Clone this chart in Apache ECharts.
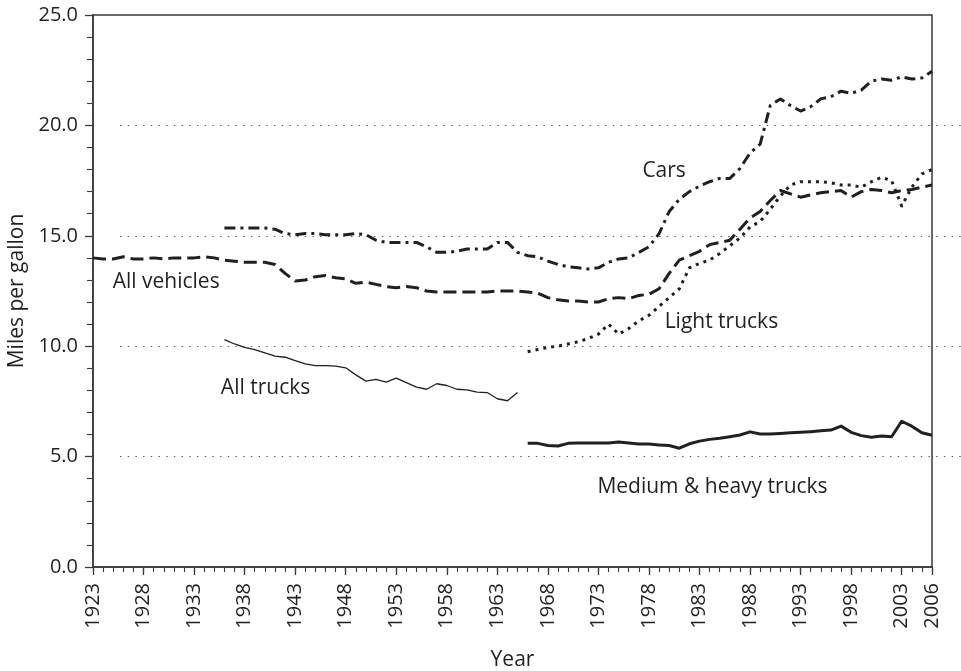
<!DOCTYPE html>
<html>
<head>
<meta charset="utf-8">
<title>Miles per gallon by vehicle type, 1923–2006</title>
<script src="https://cdn.jsdelivr.net/npm/echarts@6/dist/echarts.min.js"></script>
<style>
  html, body { margin: 0; padding: 0; background: #ffffff; }
  #chart { width: 961px; height: 671px; }
</style>
</head>
<body>
<div id="chart"></div>
<script>
// Fuel economy (miles per gallon) by vehicle class, one value per year.
const allVehiclesStart = 1923;
const allVehicles = [
  14.0, 13.95, 13.95, 14.05, 13.95, 13.95, 14.0, 13.95, 14.0, 14.0,
  14.0, 14.05, 14.0, 13.9, 13.85, 13.8, 13.8, 13.8, 13.7, 13.3,
  12.95, 13.0, 13.15, 13.2, 13.1, 13.05, 12.85, 12.9, 12.8, 12.7,
  12.65, 12.7, 12.65, 12.5, 12.45, 12.45, 12.45, 12.45, 12.45, 12.45,
  12.5, 12.5, 12.5, 12.45, 12.4, 12.2, 12.1, 12.05, 12.05, 12.0,
  12.0, 12.15, 12.2, 12.15, 12.3, 12.35, 12.6, 13.3, 13.9, 14.1,
  14.3, 14.6, 14.7, 14.8, 15.3, 15.8, 16.1, 16.6, 17.05, 16.9,
  16.75, 16.85, 16.95, 17.0, 17.05, 16.75, 17.0, 17.1, 17.05, 16.95,
  17.05, 17.1, 17.2, 17.3
];

const carsStart = 1936;
const cars = [
  15.35, 15.35, 15.35, 15.35, 15.35, 15.3, 15.1, 15.05, 15.1, 15.1,
  15.05, 15.05, 15.05, 15.1, 15.05, 14.8, 14.7, 14.7, 14.7, 14.7,
  14.5, 14.25, 14.25, 14.3, 14.4, 14.4, 14.4, 14.7, 14.7, 14.25,
  14.1, 14.05, 13.85, 13.7, 13.6, 13.55, 13.5, 13.55, 13.8, 13.95,
  14.0, 14.25, 14.5, 15.1, 16.1, 16.65, 17.0, 17.25, 17.45, 17.6,
  17.6, 18.05, 18.75, 19.15, 20.9, 21.2, 20.9, 20.65, 20.85, 21.2,
  21.3, 21.55, 21.45, 21.6, 22.0, 22.1, 22.05, 22.2, 22.1, 22.15,
  22.45
];

const lightTrucksStart = 1966;
const lightTrucks = [
  9.75, 9.85, 9.95, 10.0, 10.1, 10.2, 10.35, 10.55, 11.0, 10.55,
  10.8, 11.15, 11.4, 11.8, 12.2, 12.6, 13.55, 13.75, 13.9, 14.2,
  14.55, 14.9, 15.4, 15.65, 16.2, 16.8, 17.3, 17.45, 17.45, 17.45,
  17.4, 17.3, 17.3, 17.2, 17.45, 17.65, 17.5, 16.35, 17.2, 17.8,
  18.0
];

const allTrucksStart = 1936;
const allTrucks = [
  10.3, 10.1, 9.95, 9.85, 9.7, 9.55, 9.5, 9.35, 9.2, 9.12,
  9.12, 9.1, 9.02, 8.7, 8.42, 8.5, 8.37, 8.55, 8.35, 8.15,
  8.05, 8.3, 8.22, 8.05, 8.02, 7.92, 7.9, 7.62, 7.53, 7.9
];

const heavyTrucksStart = 1966;
const heavyTrucks = [
  5.6, 5.6, 5.5, 5.48, 5.6, 5.62, 5.62, 5.62, 5.62, 5.66,
  5.62, 5.57, 5.57, 5.53, 5.5, 5.38, 5.58, 5.7, 5.78, 5.83,
  5.9, 5.98, 6.12, 6.02, 6.02, 6.05, 6.08, 6.1, 6.13, 6.17,
  6.2, 6.38, 6.1, 5.95, 5.88, 5.93, 5.9, 6.6, 6.38, 6.08,
  5.97
];

// Axis ranges and reference lines
const yearMin = 1923, yearMax = 2006, yearStep = 5;
const mpgMin = 0, mpgMax = 25, mpgStep = 5;
const refLineMin = 5, refLineMax = 20;

// Series names and where their names are written (year, mpg)
const seriesNames = ['All vehicles', 'Cars', 'Light trucks', 'All trucks', 'Medium & heavy trucks'];
const labelYears = [1924.9, 1977.3, 1979.5, 1935.6, 1972.85];
const labelValues = [12.9, 17.95, 11.1, 8.12, 3.6];

function pairs(start, values) {
  return values.map((v, i) => [start + i, v]);
}

const INK = '#231f20';
const AXIS = '#3a3a3a';
const FONT = '"Open Sans", "Noto Sans", "DejaVu Sans", sans-serif';

const chart = echarts.init(document.getElementById('chart'), null, { renderer: 'canvas' });

const lineBase = { type: 'line', xAxisIndex: 0, yAxisIndex: 0, showSymbol: false, symbol: 'none', silent: true, animation: false, z: 3 };

chart.setOption({
  animation: false,
  backgroundColor: '#ffffff',
  textStyle: { fontFamily: FONT, color: INK },
  grid: [
    { left: 93, right: 29, top: 15, bottom: 104, outerBoundsMode: 'none', containLabel: false,
      show: true, borderColor: AXIS, borderWidth: 1.5, backgroundColor: 'transparent', z: 1 },
    { left: 120, right: 0, top: 125.4, bottom: 214.4, outerBoundsMode: 'none', containLabel: false, show: false, z: 0 }
  ],
  xAxis: [
    {
      gridIndex: 0, type: 'value', min: yearMin, max: yearMax, interval: yearStep,
      position: 'bottom',
      name: 'Year', nameLocation: 'middle', nameGap: 83,
      nameTextStyle: { fontFamily: FONT, fontSize: 21, color: INK },
      axisLine: { show: true, onZero: false, lineStyle: { color: AXIS, width: 1.5 } },
      axisTick: { show: true, length: 8, lineStyle: { color: AXIS, width: 1.3 } },
      axisLabel: { show: true, rotate: 90, margin: 16, fontFamily: FONT, fontSize: 20, color: INK, formatter: v => String(v) },
      splitLine: { show: false }
    },
    {
      gridIndex: 0, type: 'value', min: yearMin, max: yearMax, interval: 1,
      position: 'bottom',
      axisLine: { show: false, onZero: false },
      axisTick: { show: true, length: 5, lineStyle: { color: AXIS, width: 1.1 } },
      axisLabel: { show: false },
      splitLine: { show: false }
    },
    { gridIndex: 1, type: 'value', min: 0, max: 1, show: false }
  ],
  yAxis: [
    {
      gridIndex: 0, type: 'value', min: mpgMin, max: mpgMax, interval: mpgStep,
      name: 'Miles per gallon', nameLocation: 'middle', nameGap: 62,
      nameTextStyle: { fontFamily: FONT, fontSize: 21, color: INK },
      axisLine: { show: true, onZero: false, lineStyle: { color: AXIS, width: 1.5 } },
      axisTick: { show: true, length: 8, lineStyle: { color: AXIS, width: 1.3 } },
      minorTick: { show: true, splitNumber: 5, length: 6, lineStyle: { color: AXIS, width: 1.1 } },
      axisLabel: { show: true, margin: 15, fontFamily: FONT, fontSize: 20, color: INK, formatter: v => v.toFixed(1) },
      splitLine: { show: false }
    },
    {
      gridIndex: 1, type: 'value', min: refLineMin, max: refLineMax, interval: mpgStep,
      axisLine: { show: false }, axisTick: { show: false }, axisLabel: { show: false },
      splitLine: { show: true, lineStyle: { color: '#555555', width: 1.2, type: [1.4, 6.3] } }
    }
  ],
  series: [
    Object.assign({}, lineBase, {
      name: seriesNames[0], data: pairs(allVehiclesStart, allVehicles),
      lineStyle: { color: INK, width: 3, type: [13, 6], cap: 'butt', join: 'round' }
    }),
    Object.assign({}, lineBase, {
      name: seriesNames[1], data: pairs(carsStart, cars),
      lineStyle: { color: INK, width: 3, type: [11, 5, 3, 5], cap: 'butt', join: 'round' }
    }),
    Object.assign({}, lineBase, {
      name: seriesNames[2], data: pairs(lightTrucksStart, lightTrucks),
      lineStyle: { color: INK, width: 3, type: [3, 5], cap: 'butt', join: 'round' }
    }),
    Object.assign({}, lineBase, {
      name: seriesNames[3], data: pairs(allTrucksStart, allTrucks),
      lineStyle: { color: INK, width: 1.3, type: 'solid', join: 'round' }
    }),
    Object.assign({}, lineBase, {
      name: seriesNames[4], data: pairs(heavyTrucksStart, heavyTrucks),
      lineStyle: { color: INK, width: 3, type: 'solid', join: 'round' }
    }),
    {
      type: 'scatter', name: 'labels', xAxisIndex: 0, yAxisIndex: 0, silent: true, z: 4,
      symbolSize: 1, itemStyle: { color: 'rgba(0,0,0,0)' },
      data: seriesNames.map((n, i) => ({ name: n, value: [labelYears[i], labelValues[i]] })),
      label: {
        show: true, position: 'right', distance: 0, formatter: p => p.name,
        fontFamily: FONT, fontSize: 21, color: INK, opacity: 1, textBorderWidth: 0,
        align: 'left', verticalAlign: 'middle'
      },
      labelLayout: { hideOverlap: false }
    }
  ]
});
</script>
</body>
</html>
